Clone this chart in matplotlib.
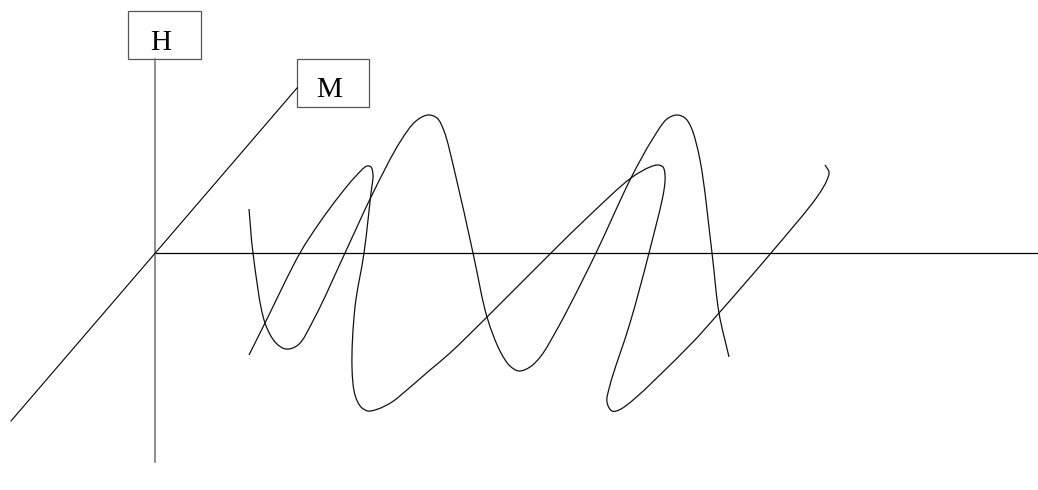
import numpy as np
import matplotlib
matplotlib.use("Agg")
import matplotlib.pyplot as plt
from matplotlib.path import Path
from matplotlib.patches import PathPatch, Rectangle

# drawing units are pixels, y grows downward
W, H = 1038, 490
origin = (155, 253)

# wave in the vertical (H) plane
h_wave_x = [249, 253, 265, 276, 286, 298, 315, 345, 372, 400, 416, 428, 437, 444, 455,
            473, 487, 500, 510, 519, 530, 541, 555, 570, 596, 631, 652, 667, 677, 685,
            691, 700, 712, 719, 729]
h_wave_y = [209, 253, 323, 343, 349, 345, 317, 253, 195, 142, 121, 115, 118, 131, 173,
            253, 317, 351, 366, 371, 367, 356, 333, 305, 253, 178, 140, 119, 115, 118,
            127, 160, 253, 313, 357]

# wave in the slanted (M) plane
m_wave_x = [249, 265, 300, 320, 340, 355, 367, 371, 373, 371, 364, 355, 352, 355, 361,
            368, 378, 392, 408, 430, 450, 487, 551, 590, 631, 650, 658, 663, 665, 664,
            649, 630, 610, 607, 612, 621, 690, 719, 771, 817, 827, 829, 825]
m_wave_y = [355, 323, 253, 222, 195, 177, 166, 167, 175, 193, 253, 307, 367, 395, 407,
            411, 409, 402, 389, 370, 353, 317, 253, 215, 178, 167, 165, 167, 175, 190,
            253, 323, 385, 402, 411, 409, 345, 313, 253, 197, 180, 172, 165]

# axes of the sketch
prop_axis_end = 1038
h_axis_top, h_axis_bottom = 59, 462
m_axis_start = (11, 421)
m_axis_end = (297, 88)

labels = ["H", "M"]
label_boxes = [(128, 11, 73, 48), (297, 59, 72, 48)]
label_pos = [(160.5, 49.5), (329, 97)]


def smooth_path(xs, ys, alpha=0.5):
    """Centripetal Catmull-Rom through the points, as cubic Bezier segments."""
    p = np.column_stack([xs, ys]).astype(float)
    p = np.vstack([2 * p[0] - p[1], p, 2 * p[-1] - p[-2]])
    verts = [p[1]]
    codes = [Path.MOVETO]
    for i in range(1, len(p) - 2):
        p0, p1, p2, p3 = p[i - 1], p[i], p[i + 1], p[i + 2]
        d1 = max(np.linalg.norm(p1 - p0) ** alpha, 1e-6)
        d2 = max(np.linalg.norm(p2 - p1) ** alpha, 1e-6)
        d3 = max(np.linalg.norm(p3 - p2) ** alpha, 1e-6)
        b1 = (d1**2 * p2 - d2**2 * p0 + (2 * d1**2 + 3 * d1 * d2 + d2**2) * p1) / (3 * d1 * (d1 + d2))
        b2 = (d3**2 * p1 - d2**2 * p3 + (2 * d3**2 + 3 * d3 * d2 + d2**2) * p2) / (3 * d3 * (d3 + d2))
        verts += [b1, b2, p2]
        codes += [Path.CURVE4] * 3
    return Path(verts, codes)


fig = plt.figure(figsize=(W / 100, H / 100), dpi=100)
ax = fig.add_axes([0, 0, 1, 1])
ax.set_xlim(0, W)
ax.set_ylim(H, 0)
ax.axis("off")

# axes
ax.plot([origin[0], prop_axis_end], [origin[1], origin[1]], color="black", lw=0.9)
ax.plot([origin[0], origin[0]], [h_axis_top, h_axis_bottom], color="#7a7a7a", lw=1.2)
ax.plot([m_axis_start[0], m_axis_end[0]], [m_axis_start[1], m_axis_end[1]], color="black", lw=0.8)

# waves
for xs, ys in [(h_wave_x, h_wave_y), (m_wave_x, m_wave_y)]:
    ax.add_patch(PathPatch(smooth_path(xs, ys), facecolor="none", edgecolor="#111111", lw=0.9))

# label boxes
for text, (bx, by, bw, bh), (tx, ty) in zip(labels, label_boxes, label_pos):
    ax.add_patch(Rectangle((bx, by), bw, bh, facecolor="white", edgecolor="#555555", lw=0.9))
    ax.text(tx, ty, text, ha="center", va="baseline", fontsize=21,
            family="Liberation Serif", color="black")

fig.savefig("out.png", dpi=100)
